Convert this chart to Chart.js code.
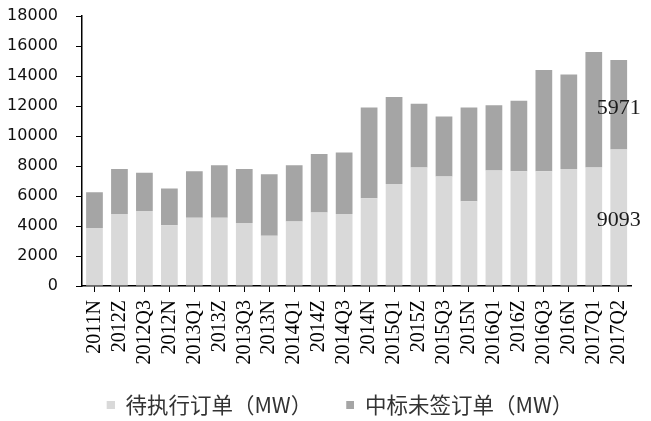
<!DOCTYPE html>
<html>
<head>
<meta charset="utf-8">
<script src="https://cdn.jsdelivr.net/npm/chart.js@4/dist/chart.umd.min.js"></script>
<style>
  html, body { margin: 0; padding: 0; background: #fff; }
  #wrap { width: 651px; height: 421px; }
</style>
</head>
<body>
<div id="wrap"><canvas id="c" width="651" height="421"></canvas></div>
<script>
// Order book by period (MW)
const categories = ['2011N','2012Z','2012Q3','2012N','2013Q1','2013Z','2013Q3','2013N','2014Q1','2014Z','2014Q3',
                    '2014N','2015Q1','2015Z','2015Q3','2015N','2016Q1','2016Z','2016Q3','2016N','2017Q1','2017Q2'];
const pendingOrders = [3870, 4800, 5000, 4050, 4550, 4550, 4200, 3350, 4300, 4900, 4800,
                       5850, 6800, 7900, 7300, 5650, 7700, 7650, 7650, 7800, 7900, 9093];
const wonUnsigned   = [2380, 3000, 2550, 2450, 3100, 3500, 3600, 4100, 3750, 3900, 4100,
                       6050, 5800, 4250, 4000, 6250, 4350, 4700, 6750, 6300, 7700, 5971];
const seriesNames = ['待执行订单（MW）', '中标未签订单（MW）'];
const seriesColors = ['#d9d9d9', '#a5a5a5'];
const yTicks = { min: 0, max: 18000, step: 2000 };

// legend marker: small square sitting at the right end of a wider slot,
// which leaves extra room between the two legend entries
const MARKER_SLOT = 14, MARKER_SIZE = 8;
function legendMarker(color) {
  const c = document.createElement('canvas');
  c.width = MARKER_SLOT; c.height = MARKER_SIZE;
  const g = c.getContext('2d');
  g.fillStyle = color;
  g.fillRect(MARKER_SLOT - MARKER_SIZE, 0, MARKER_SIZE, MARKER_SIZE);
  return c;
}
const markers = seriesColors.map(legendMarker);

// value labels on the latest period only
const valueLabels = {
  id: 'valueLabels',
  afterDatasetsDraw(chart) {
    const ctx = chart.ctx;
    const idx = categories.length - 1;
    ctx.save();
    ctx.font = '22px "Liberation Serif", "Times New Roman", serif';
    ctx.fillStyle = '#1a1a1a';
    ctx.textAlign = 'center';
    ctx.textBaseline = 'middle';
    chart.data.datasets.forEach((ds, i) => {
      const bar = chart.getDatasetMeta(i).data[idx];
      if (!bar) return;
      const { x, y, base } = bar.getProps(['x', 'y', 'base'], true);
      ctx.fillText(String(ds.data[idx]), x, (y + base) / 2 + 3);
    });
    ctx.restore();
  }
};

new Chart(document.getElementById('c'), {
  type: 'bar',
  data: {
    labels: categories,
    datasets: [
      { label: seriesNames[0], data: pendingOrders, backgroundColor: seriesColors[0],
        categoryPercentage: 1, barPercentage: 0.67 },
      { label: seriesNames[1], data: wonUnsigned, backgroundColor: seriesColors[1],
        categoryPercentage: 1, barPercentage: 0.67 }
    ]
  },
  options: {
    responsive: false,
    devicePixelRatio: 1,
    animation: false,
    // the legend row is centred a little to the right of the canvas middle
    layout: { padding: { top: 16, right: -23, left: 0, bottom: -4.5 } },
    plugins: {
      tooltip: { enabled: false },
      legend: {
        position: 'bottom',
        labels: {
          usePointStyle: true,
          pointStyleWidth: MARKER_SLOT,
          boxHeight: MARKER_SIZE,
          padding: 28,
          color: '#333',
          font: { family: '"Noto Sans CJK SC", sans-serif', size: 21.5 },
          generateLabels(chart) {
            const items = Chart.defaults.plugins.legend.labels.generateLabels(chart);
            items.forEach((it, i) => { it.pointStyle = markers[i]; });
            return items;
          }
        }
      }
    },
    scales: {
      x: {
        stacked: true,
        afterFit(axis) { axis.height = 80; },
        grid: { offset: false, drawOnChartArea: false, drawTicks: true, tickLength: 6, color: '#000' },
        border: { color: '#000', width: 1.5 },
        ticks: {
          minRotation: 90, maxRotation: 90, autoSkip: false, padding: 8,
          color: '#000',
          font: { family: '"Liberation Serif", "Times New Roman", serif', size: 20 }
        }
      },
      y: {
        stacked: true,
        min: yTicks.min, max: yTicks.max,
        afterFit(axis) { axis.width = 82; axis.paddingTop = 10; axis.paddingBottom = 10; },
        grid: { drawOnChartArea: false, drawTicks: true, tickLength: 6, color: '#000' },
        border: { color: '#000', width: 1.5 },
        ticks: {
          stepSize: yTicks.step, padding: 18, color: '#111',
          font: { family: '"DejaVu Sans", sans-serif', size: 16 },
          callback: (v) => String(v)
        }
      },
      // empty margin on the right of the plot
      yRight: {
        type: 'linear',
        position: 'right',
        afterFit(axis) { axis.width = 34; },
        grid: { display: false },
        border: { display: false },
        ticks: { display: false }
      }
    }
  },
  plugins: [valueLabels]
});
</script>
</body>
</html>
